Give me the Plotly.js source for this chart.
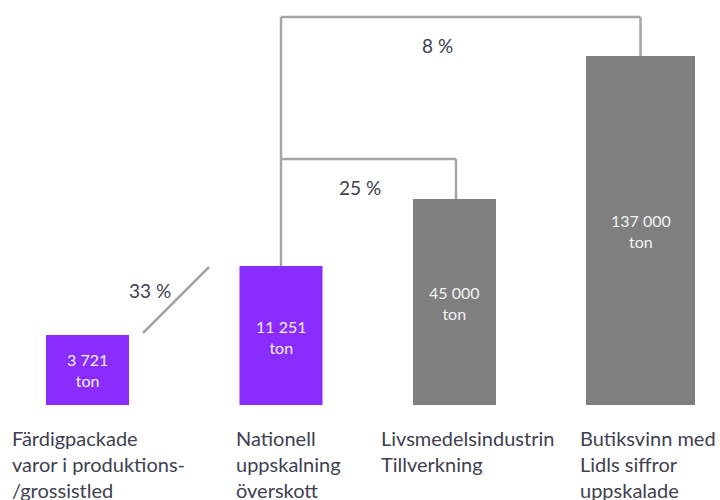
<!DOCTYPE html>
<html><head><meta charset="utf-8">
<script src="https://cdn.plot.ly/plotly-3.0.1.min.js"></script>
<style>html,body{margin:0;padding:0;background:#fff}#c{width:720px;height:500px}</style>
</head><body><div id="c"></div>
<script>
// Data
const categories = [["Färdigpackade", "varor i produktions-", "/grossistled"], ["Nationell", "uppskalning", "överskott"], ["Livsmedelsindustrin", "Tillverkning"], ["Butiksvinn med", "Lidls siffror", "uppskalade"]];
const values = [3721, 11251, 45000, 137000];
const valueLabels = ["3 721<br>ton", "11 251<br>ton", "45 000<br>ton", "137 000<br>ton"];
const barHeight = [70, 139, 206, 349]; // schematic heights as drawn (not to scale)
const shares = ["33 %", "25 %", "8 %"];

// Layout (pixel-like coordinate system, y up)
const H = 500;
const base = H - 405;
const centers = [87.5, 281, 454.5, 640.5];
const widths = [83, 83, 83, 109];
const colors = ["#8B2CFF", "#8B2CFF", "#7F7F7F", "#7F7F7F"];
const labelX = [10, 234, 379, 578];
const barTop = i => base + barHeight[i];
const lineC = "#A6A6A6", txtC = "#40404F";
const FONT = "Lato, sans-serif";

const trace = {
  type: "bar", x: centers, y: barHeight, base: base, width: widths,
  marker: {color: colors, line: {width: 0}},
  hoverinfo: "none", cliponaxis: false
};

const labelY = [H - 370, H - 337, H - 303, H - 231];

const ln = (x0, y0, x1, y1) => ({type: "line", xref: "x", yref: "y", x0, y0, x1, y1, line: {color: lineC, width: 2.5}});
const bracketLow = H - 159, bracketHigh = H - 17;
const shapes = [
  ln(143, H - 333, 209, H - 267),
  ln(centers[1], barTop(1), centers[1], bracketHigh),
  ln(centers[1], bracketLow, 456, bracketLow),
  ln(456, bracketLow, 456, barTop(2)),
  ln(centers[1], bracketHigh, centers[3], bracketHigh),
  ln(centers[3], bracketHigh, centers[3], barTop(3))
];

const annotations = [];
valueLabels.forEach((t, i) => annotations.push({x: centers[i], y: labelY[i], text: t, showarrow: false,
  xanchor: "center", yanchor: "middle", align: "center",
  font: {family: FONT, size: 16, color: "#F2F2F2"}}));
categories.forEach((lines, i) => lines.forEach((t, j) => annotations.push({x: labelX[i], y: H - 438 - 26 * j, text: t, showarrow: false,
  xanchor: "left", yanchor: "middle", align: "left",
  font: {family: FONT, size: 20, color: txtC}})));
const shareX = [150, 360, 437], shareY = [H - 290, H - 187, H - 45];
shares.forEach((t, i) => annotations.push({x: shareX[i], y: shareY[i], text: t, showarrow: false,
  xanchor: "center", yanchor: "middle",
  font: {family: FONT, size: 19, color: txtC}}));

Plotly.newPlot("c", [trace], {
  width: 720, height: 500, margin: {l: 0, r: 0, t: 0, b: 0},
  paper_bgcolor: "#fff", plot_bgcolor: "#fff", showlegend: false,
  xaxis: {range: [0, 720], visible: false, fixedrange: true},
  yaxis: {range: [0, 500], visible: false, fixedrange: true},
  shapes, annotations
}, {staticPlot: true});
</script></body></html>
